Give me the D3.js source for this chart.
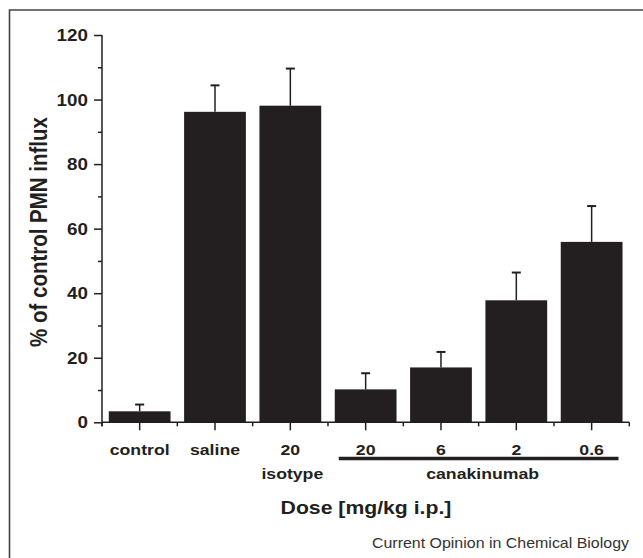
<!DOCTYPE html>
<html>
<head>
<meta charset="utf-8">
<script src="https://cdn.jsdelivr.net/npm/d3@7"></script>
<style>
  html, body { margin: 0; padding: 0; background: #fff; }
  svg { display: block; }
  text { font-family: "Liberation Sans", Arial, Helvetica, sans-serif; fill: #231f20; }
</style>
</head>
<body>
<svg id="chart" width="643" height="558"></svg>
<script>
// ---- data ----
const categories = ["control", "saline", "isotype_20", "cana_20", "cana_6", "cana_2", "cana_0.6"];
const doseLabels = ["control", "saline", "20", "20", "6", "2", "0.6"];
const meanValues = [3.4, 96.2, 98.1, 10.2, 17.0, 37.8, 55.9];
const errorValues = [2.1, 8.2, 11.5, 5.0, 4.8, 8.6, 11.1];
const yTicks = [0, 20, 40, 60, 80, 100, 120];
const yMinorTicks = [10, 30, 50, 70, 90, 110];
const isotypeGroup = ["isotype_20"];
const canakinumabGroup = ["cana_20", "cana_6", "cana_2", "cana_0.6"];
const yTitle = "% of control PMN influx";
const xTitle = "Dose [mg/kg i.p.]";
const credit = "Current Opinion in Chemical Biology";

// ---- layout ----
const ink = "#231f20";
const sx = 1.14; // horizontal stretch of glyphs in the reference
const svg = d3.select("#chart");

const x = d3.scaleBand().domain(categories).range([102, 629.3])
  .paddingInner(0.18).paddingOuter(0.09);
const y = d3.scaleLinear().domain([0, 120]).range([422.3, 35]);

function stretchedText(g, str, tx, ty, size, weight, anchor) {
  return g.append("text")
    .attr("transform", `translate(${tx},${ty}) scale(${sx},1)`)
    .attr("text-anchor", anchor)
    .style("font-size", size + "px")
    .style("font-weight", weight)
    .text(str);
}

// frame
svg.append("path")
  .attr("d", "M9.5,558 V10 H643")
  .attr("fill", "none").attr("stroke", "#444").attr("stroke-width", 1.6);

// bars
svg.append("g").selectAll("rect")
  .data(categories)
  .join("rect")
  .attr("x", d => x(d))
  .attr("width", x.bandwidth())
  .attr("y", (d, i) => y(meanValues[i]))
  .attr("height", (d, i) => y(0) - y(meanValues[i]))
  .attr("fill", ink);

// error bars
const eg = svg.append("g").attr("stroke", ink);
categories.forEach((c, i) => {
  const cx = x(c) + x.bandwidth() / 2;
  eg.append("line")
    .attr("x1", cx).attr("x2", cx)
    .attr("y1", y(meanValues[i])).attr("y2", y(meanValues[i] + errorValues[i]))
    .attr("stroke-width", 1.5);
  eg.append("line")
    .attr("x1", cx - 4.5).attr("x2", cx + 4.5)
    .attr("y1", y(meanValues[i] + errorValues[i])).attr("y2", y(meanValues[i] + errorValues[i]))
    .attr("stroke-width", 2);
});

// y axis
const yAxis = d3.axisLeft(y).tickValues(yTicks).tickSize(8).tickFormat("");
const yg = svg.append("g").attr("transform", "translate(102,0)").call(yAxis);
yg.select(".domain").attr("d", `M0,${y(120)}V${y(0) + 4}`).attr("stroke", ink).attr("stroke-width", 1.5);
yg.selectAll(".tick line").attr("stroke", ink).attr("stroke-width", 1.5);
const yMinor = d3.axisLeft(y).tickValues(yMinorTicks).tickSize(4).tickFormat("");
const ymg = svg.append("g").attr("transform", "translate(102,0)").call(yMinor);
ymg.select(".domain").remove();
ymg.selectAll(".tick line").attr("stroke", ink).attr("stroke-width", 1.5);
yTicks.forEach(t => {
  stretchedText(svg, String(t), 88, y(t) + 6, 16.5, "bold", "end");
});

// x axis
const xAxis = d3.axisBottom(x).tickSize(8).tickSizeOuter(0).tickFormat("");
const xg = svg.append("g").attr("transform", `translate(0,${y(0)})`).call(xAxis);
xg.select(".domain").attr("d", "M102,0H629.3").attr("stroke", ink).attr("stroke-width", 1.5);
xg.selectAll(".tick line").attr("stroke", ink).attr("stroke-width", 1.5);
// minor ticks at band boundaries
const halfGap = x.step() * x.paddingInner() / 2;
const boundaries = categories.map(c => x(c) - halfGap).concat([x(categories[categories.length - 1]) + x.bandwidth() + halfGap]);
svg.append("g").selectAll("line")
  .data(boundaries)
  .join("line")
  .attr("x1", d => d).attr("x2", d => d)
  .attr("y1", y(0)).attr("y2", y(0) + 4)
  .attr("stroke", ink).attr("stroke-width", 1.5);

// dose labels
categories.forEach((c, i) => {
  stretchedText(svg, doseLabels[i], x(c) + x.bandwidth() / 2, 455, 15.5, "bold", "middle");
});

// group labels
const isoCx = x(isotypeGroup[0]) + x.bandwidth() / 2 + 2;
stretchedText(svg, "isotype", isoCx, 479, 15.5, "bold", "middle");

const canaStart = x(canakinumabGroup[0]) + 4;
const canaEnd = x(canakinumabGroup[canakinumabGroup.length - 1]) + x.bandwidth() - 4;
svg.append("line")
  .attr("x1", canaStart).attr("x2", canaEnd)
  .attr("y1", 458.5).attr("y2", 458.5)
  .attr("stroke", ink).attr("stroke-width", 3.5);
stretchedText(svg, "canakinumab", (canaStart + canaEnd) / 2 + 4, 479, 15.5, "bold", "middle");

// axis titles
stretchedText(svg, xTitle, 366, 514, 18.6, "bold", "middle");
svg.append("text")
  .attr("transform", `translate(46.5,232) scale(${sx},1) rotate(-90)`)
  .attr("text-anchor", "middle")
  .style("font-size", "20.5px")
  .style("font-weight", "bold")
  .text(yTitle);

// credit
stretchedText(svg, credit, 629, 548, 14, "normal", "end").style("fill", "#333");
</script>
</body>
</html>
